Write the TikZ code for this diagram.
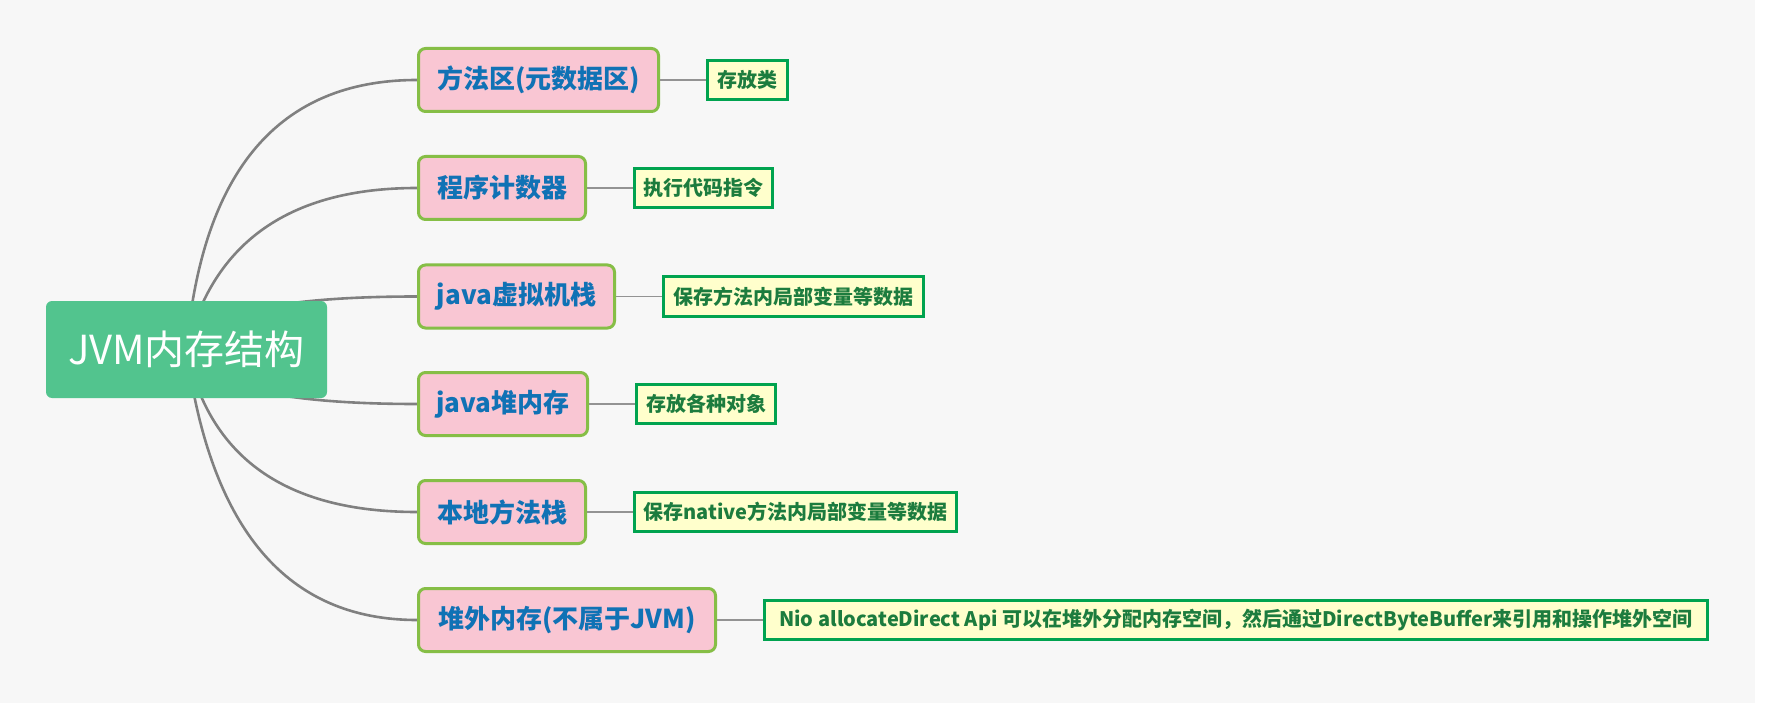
\documentclass[tikz,border=0pt]{standalone}
\usepackage{fontspec}
\setmainfont{Noto Sans CJK SC}
\usetikzlibrary{positioning, backgrounds, calc}
\definecolor{pagebg}{RGB}{247,247,247}
\definecolor{rootgreen}{RGB}{82,196,142}
\definecolor{branchpink}{RGB}{249,198,211}
\definecolor{branchline}{RGB}{134,190,70}
\definecolor{branchtext}{RGB}{16,114,181}
\definecolor{leaffill}{RGB}{255,255,204}
\definecolor{leafline}{RGB}{0,163,79}
\definecolor{leaftext}{RGB}{28,124,62}
\definecolor{trunkgray}{RGB}{128,128,128}
\tikzset{
root/.style={fill=rootgreen, rounded corners=6pt, text=white, font=\fontsize{40}{44}\selectfont, minimum width=281pt, minimum height=97pt}, % the central topic
branch/.style={draw=branchline, line width=3pt, fill=branchpink, rounded corners=7pt, text=branchtext, font=\fontsize{26}{30}\selectfont\bfseries, minimum height=63pt, anchor=west}, % one part of the memory
leaf/.style={draw=leafline, line width=3pt, fill=leaffill, text=leaftext, font=\fontsize{20}{24}\selectfont\bfseries, minimum height=39pt, inner xsep=8pt}, % what the part holds
trunk/.style={draw=trunkgray, line width=2.6pt}, % curves out of the root
twig/.style={draw=trunkgray!85, line width=1.3pt}, % short links to the notes
}

\begin{document}
\begin{tikzpicture}[x=1pt, y=-1pt]
    \useasboundingbox (0,0) rectangle (1766,703);

    \node[root] (jvm) at (186.5,349.5) {JVM内存结构};

    \node[branch, minimum width=240pt] (fangfa) at (417,80) {方法区(元数据区)};
    \node[branch, minimum width=167pt] (pc) at (417,188) {程序计数器};
    \node[branch, minimum width=196pt] (vmstack) at (417,296.5) {java虚拟机栈};
    \node[branch, minimum width=169pt] (heap) at (417,404) {java堆内存};
    \node[branch, minimum width=167pt] (native) at (417,512) {本地方法栈};
    \node[branch, minimum width=297pt] (offheap) at (417,620) {堆外内存(不属于JVM)};

    \node[leaf, minimum width=80pt, right=46pt of fangfa] (classes) {存放类};
    \node[leaf, minimum width=138pt, right=46pt of pc] (instr) {执行代码指令};
    \node[leaf, minimum width=260pt, right=46pt of vmstack] (locals) {保存方法内局部变量等数据};
    \node[leaf, minimum width=139pt, right=46pt of heap] (objects) {存放各种对象};
    \node[leaf, minimum width=322pt, right=46pt of native] (nativelocals) {保存native方法内局部变量等数据};
    \node[leaf, minimum width=943pt, right=46pt of offheap] (nio) {Nio allocateDirect Api 可以在堆外分配内存空间，然后通过DirectByteBuffer来引用和操作堆外空间};

    % bend points of the curves
    \coordinate (k1) at ([xshift=24pt]jvm.center |- fangfa.west);
    \coordinate (k2) at ([xshift=40pt]jvm.center |- pc.west);
    \coordinate (k3) at ([xshift=20pt]jvm.center |- vmstack.west);
    \coordinate (k4) at ([xshift=24pt]jvm.center |- heap.west);
    \coordinate (k5) at ([xshift=34pt]jvm.center |- native.west);
    \coordinate (k6) at ([xshift=36pt]jvm.center |- offheap.west);

    \begin{pgfonlayer}{background}
    \fill[pagebg] (0,0) rectangle (1755,703);

    \draw[trunk] (jvm.center) .. controls ($(jvm.center)!2/3!(k1)$) and ($(fangfa.west)!2/3!(k1)$) .. (fangfa.west);
    \draw[trunk] (jvm.center) .. controls ($(jvm.center)!2/3!(k2)$) and ($(pc.west)!2/3!(k2)$) .. (pc.west);
    \draw[trunk] (jvm.center) .. controls ($(jvm.center)!2/3!(k3)$) and ($(vmstack.west)!2/3!(k3)$) .. (vmstack.west);
    \draw[trunk] (jvm.center) .. controls ($(jvm.center)!2/3!(k4)$) and ($(heap.west)!2/3!(k4)$) .. (heap.west);
    \draw[trunk] (jvm.center) .. controls ($(jvm.center)!2/3!(k5)$) and ($(native.west)!2/3!(k5)$) .. (native.west);
    \draw[trunk] (jvm.center) .. controls ($(jvm.center)!2/3!(k6)$) and ($(offheap.west)!2/3!(k6)$) .. (offheap.west);
    \end{pgfonlayer}

    \draw
    (fangfa.east) edge[twig] (classes.west)
    (pc.east) edge[twig] (instr.west)
    (vmstack.east) edge[twig] (locals.west);

    \draw
    (heap.east) edge[twig] (objects.west)
    (native.east) edge[twig] (nativelocals.west)
    (offheap.east) edge[twig] (nio.west);

\end{tikzpicture}
\end{document}
